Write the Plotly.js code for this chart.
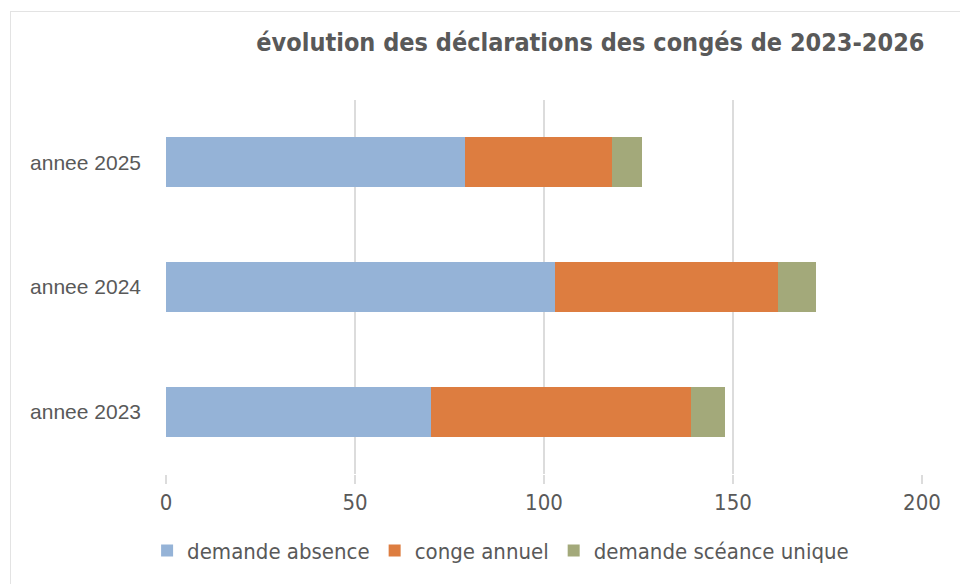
<!DOCTYPE html>
<html>
<head>
<meta charset="utf-8">
<script src="https://cdn.plot.ly/plotly-3.0.1.min.js"></script>
<style>
  body { margin: 0; background: #fff; }
  #chart { width: 960px; height: 584px; }
  #frame { position: absolute; left: 10px; top: 11px; width: 960px; height: 600px;
           border: 1.5px solid #e3e3e3; pointer-events: none; }
</style>
</head>
<body>
<div id="frame"></div>
<div id="chart"></div>
<script>
// data
let categories = ['annee 2023', 'annee 2024', 'annee 2025'];
let absenceValues = [70, 103, 79];
let congeValues = [69, 59, 39];
let seanceValues = [9, 10, 8];

let seriesNames = ['demande absence', 'conge annuel', 'demande scéance unique'];
let seriesColors = ['#95B3D7', '#DD7D40', '#A3A97A'];

let narrow = '"Liberation Sans Narrow", "DejaVu Sans Condensed", Roboto, sans-serif';

let data = [absenceValues, congeValues, seanceValues].map(function (vals, i) {
    return {
        type: 'bar',
        orientation: 'h',
        y: categories,
        x: vals,
        name: seriesNames[i],
        marker: { color: seriesColors[i], line: { width: 0 } },
        hoverinfo: 'x+name'
    };
});

let layout = {
    barmode: 'stack',
    bargap: 0.6,
    width: 960,
    height: 584,
    paper_bgcolor: 'rgba(0,0,0,0)',
    plot_bgcolor: 'rgba(0,0,0,0)',
    margin: { l: 166, r: 38, t: 100, b: 110 },
    title: {
        text: '<b>évolution des déclarations des congés de 2023-2026</b>',
        font: { family: narrow, size: 25, color: '#595959' },
        x: 0.615, xanchor: 'center',
        y: 0.928, yanchor: 'middle'
    },
    xaxis: {
        range: [0, 200],
        dtick: 50,
        showgrid: true,
        gridcolor: '#dcdcdc',
        gridwidth: 1.5,
        zeroline: false,
        showline: false,
        ticks: 'outside',
        ticklen: 9,
        tickwidth: 1.5,
        tickcolor: '#dcdcdc',
        tickfont: { family: narrow, size: 22, color: '#595959' }
    },
    yaxis: {
        showgrid: false,
        zeroline: false,
        showline: false,
        ticks: '',
        ticklabelstandoff: 24,
        tickfont: { family: '"Liberation Sans", Arial, sans-serif', size: 21, color: '#595959' }
    },
    showlegend: true,
    legend: {
        orientation: 'h',
        x: -0.025, xanchor: 'left',
        y: -0.205, yanchor: 'middle',
        traceorder: 'normal',
        font: { family: narrow, size: 22, color: '#595959' },
        itemwidth: 30
    }
};

Plotly.newPlot('chart', data, layout, { displayModeBar: false, staticPlot: true });
</script>
</body>
</html>
